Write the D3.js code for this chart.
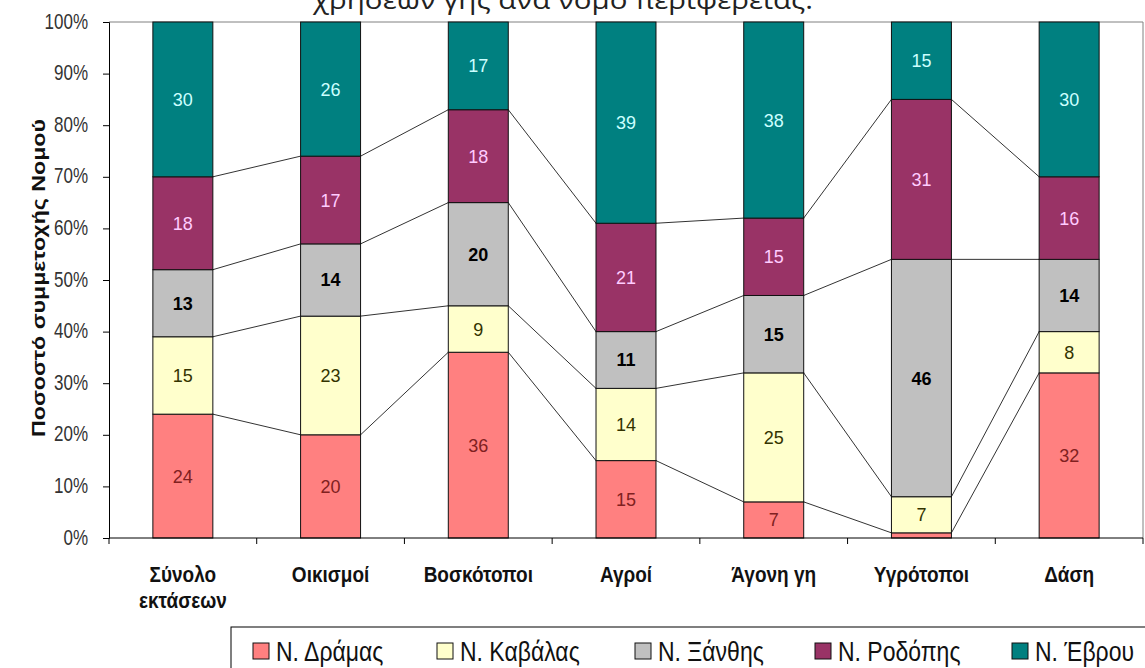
<!DOCTYPE html>
<html>
<head>
<meta charset="utf-8">
<script src="https://cdn.jsdelivr.net/npm/d3@7"></script>
<style>
  body { margin: 0; background: #fff; }
  text { font-family: "Liberation Sans", Arial, sans-serif; }
</style>
</head>
<body>
<svg width="1145" height="668"></svg>
<script>
// categories (land uses) and their label lines
var categories = ["Σύνολο εκτάσεων", "Οικισμοί", "Βοσκότοποι", "Αγροί", "Άγονη γη", "Υγρότοποι", "Δάση"];
var categoryLines = [["Σύνολο", "εκτάσεων"], ["Οικισμοί"], ["Βοσκότοποι"], ["Αγροί"], ["Άγονη γη"], ["Υγρότοποι"], ["Δάση"]];

// prefectures (series)
var seriesNames = ["Ν. Δράμας", "Ν. Καβάλας", "Ν. Ξάνθης", "Ν. Ροδόπης", "Ν. Έβρου"];

// share (%) of each prefecture per land use
var drama  = [24, 20, 36, 15, 7, 1, 32];
var kavala = [15, 23, 9, 14, 25, 7, 8];
var xanthi = [13, 14, 20, 11, 15, 46, 14];
var rodopi = [18, 17, 18, 21, 15, 31, 16];
var evros  = [30, 26, 17, 39, 38, 15, 30];

var yTicks = [0, 10, 20, 30, 40, 50, 60, 70, 80, 90, 100];

var fills = ["#FF8080", "#FFFFCC", "#C0C0C0", "#993366", "#008080"];
var labelColors = ["#802020", "#333300", "#000000", "#FFCCFF", "#CCFFFF"];
var labelWeights = ["normal", "normal", "bold", "normal", "normal"];

// rows for d3.stack
var rows = categories.map(function(c, i) {
    return { cat: c, s0: drama[i], s1: kavala[i], s2: xanthi[i], s3: rodopi[i], s4: evros[i] };
});
var keys = ["s0", "s1", "s2", "s3", "s4"];
var stacked = d3.stack().keys(keys)(rows);

var svg = d3.select("svg"),
    margin = { top: 22, right: 2, bottom: 130, left: 109 },
    width = 1145 - margin.left - margin.right,
    height = 668 - margin.top - margin.bottom;

var x = d3.scaleBand().domain(categories).range([0, width]).paddingInner(0.594).paddingOuter(0.297);
var y = d3.scaleLinear().domain([0, 100]).range([height, 0]);

// cut-off title at the top
svg.append("text")
    .attr("x", 313).attr("y", 9)
    .style("font-family", "'Open Sans', sans-serif")
    .style("font-size", "26px")
    .attr("fill", "#222")
    .attr("textLength", 500)
    .attr("lengthAdjust", "spacingAndGlyphs")
    .text("χρήσεων γης ανά νομό περιφέρειας.");

var g = svg.append("g").attr("transform", "translate(" + margin.left + "," + margin.top + ")");

// plot area border (top and right)
g.append("path")
    .attr("d", "M0,0H" + width + "V" + height)
    .attr("fill", "none")
    .attr("stroke", "#808080");

// series lines between bars
for (var k = 0; k < keys.length - 1; k++) {
    var layer = stacked[k];
    for (var i = 0; i < categories.length - 1; i++) {
        g.append("line")
            .attr("x1", x(categories[i]) + x.bandwidth())
            .attr("y1", y(layer[i][1]))
            .attr("x2", x(categories[i + 1]))
            .attr("y2", y(layer[i + 1][1]))
            .attr("stroke", "#333")
            .attr("stroke-width", 1);
    }
}

// bars
var layers = g.selectAll(".layer")
    .data(stacked)
    .enter().append("g")
    .attr("class", "layer")
    .attr("fill", function(d, i) { return fills[i]; });

layers.selectAll("rect")
    .data(function(d) { return d; })
    .enter().append("rect")
    .attr("x", function(d) { return x(d.data.cat); })
    .attr("y", function(d) { return y(d[1]); })
    .attr("width", x.bandwidth())
    .attr("height", function(d) { return y(d[0]) - y(d[1]); })
    .attr("stroke", "#111")
    .attr("stroke-width", 1);

// data labels
layers.each(function(layerData, li) {
    d3.select(this).selectAll("text")
        .data(layerData.filter(function(d) { return d[1] - d[0] >= 3; }))
        .enter().append("text")
        .attr("x", function(d) { return x(d.data.cat) + x.bandwidth() / 2; })
        .attr("y", function(d) { return y((d[0] + d[1]) / 2); })
        .attr("dy", "0.36em")
        .attr("text-anchor", "middle")
        .style("font-size", "18px")
        .style("font-weight", labelWeights[li])
        .attr("fill", labelColors[li])
        .text(function(d) { return d[1] - d[0]; });
});

// y axis
var yAxis = d3.axisLeft(y).tickValues(yTicks).tickSize(6).tickFormat(function(d) { return d + "%"; });
var ya = g.append("g").call(yAxis);
ya.select(".domain").attr("stroke", "#000");
ya.selectAll(".tick line").attr("stroke", "#000");
ya.selectAll(".tick text")
    .attr("x", null).attr("dy", null)
    .attr("transform", "translate(-21,6) scale(1,1.3)")
    .style("font-size", "17px")
    .attr("fill", "#333");

// x axis, ticks at category boundaries
g.append("line")
    .attr("x1", 0).attr("x2", width)
    .attr("y1", height).attr("y2", height)
    .attr("stroke", "#000");
var boundaries = d3.range(categories.length + 1).map(function(i) { return i * x.step(); });
g.selectAll(".xtick")
    .data(boundaries)
    .enter().append("line")
    .attr("x1", function(d) { return d; }).attr("x2", function(d) { return d; })
    .attr("y1", height).attr("y2", height + 6)
    .attr("stroke", "#000");

var xl = g.selectAll(".xlabel")
    .data(categories)
    .enter().append("text")
    .attr("text-anchor", "middle")
    .attr("transform", function(d) { return "translate(" + (x(d) + x.bandwidth() / 2) + "," + (height + 44) + ") scale(1,1.15)"; })
    .style("font-size", "19px")
    .style("font-weight", "bold")
    .attr("fill", "#111");
xl.selectAll("tspan")
    .data(function(d, i) { return categoryLines[i]; })
    .enter().append("tspan")
    .attr("x", 0)
    .attr("dy", function(d, j) { return j === 0 ? 0 : 23; })
    .text(function(d) { return d; });

// y axis title
svg.append("text")
    .attr("transform", "translate(45,278) rotate(-90)")
    .attr("text-anchor", "middle")
    .style("font-size", "18px")
    .style("font-weight", "bold")
    .attr("textLength", 318)
    .attr("lengthAdjust", "spacingAndGlyphs")
    .attr("fill", "#111")
    .text("Ποσοστό συμμετοχής Νομού");

// legend
var legendX = [253, 437, 635, 815, 1012];
var legend = svg.append("g");
legend.append("rect")
    .attr("x", 231).attr("y", 627)
    .attr("width", 930).attr("height", 60)
    .attr("fill", "#fff")
    .attr("stroke", "#000");
var items = legend.selectAll(".item")
    .data(seriesNames)
    .enter().append("g")
    .attr("transform", function(d, i) { return "translate(" + legendX[i] + ",0)"; });
items.append("rect")
    .attr("x", 0).attr("y", 643)
    .attr("width", 16).attr("height", 16)
    .attr("fill", function(d, i) { return fills[i]; })
    .attr("stroke", "#111");
items.append("text")
    .attr("transform", "translate(23,661) scale(1,1.18)")
    .style("font-size", "23px")
    .attr("fill", "#111")
    .text(function(d) { return d; });
</script>
</body>
</html>
